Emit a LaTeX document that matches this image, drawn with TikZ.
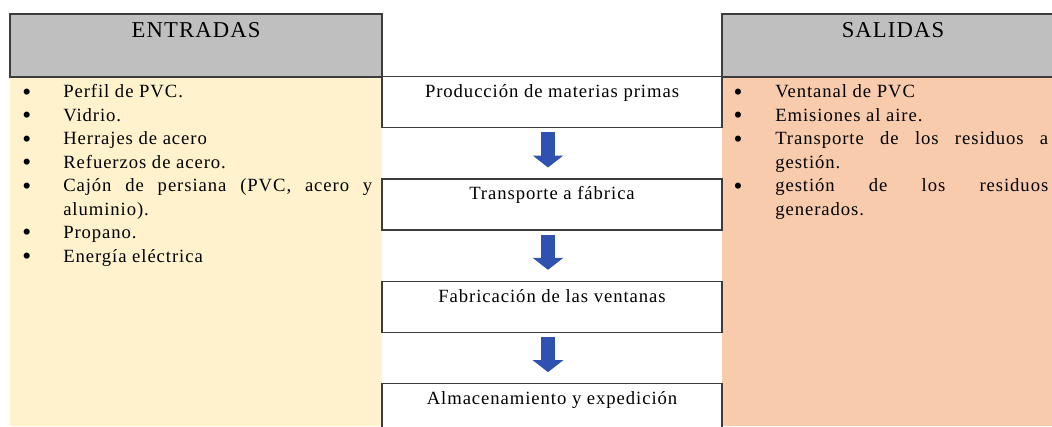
\documentclass[tikz,border=0pt]{standalone}
\usepackage{fontspec}
\setmainfont{Liberation Serif}[LetterSpace=5]
\usetikzlibrary{positioning,arrows.meta}

\definecolor{headgray}{RGB}{191,191,191}
\definecolor{inyellow}{RGB}{255,242,204}
\definecolor{outsalmon}{RGB}{247,203,172}
\definecolor{flowblue}{RGB}{47,82,176}
\definecolor{edgegray}{RGB}{60,60,60}

% bullet line with hanging indent
\newcommand{\bulitem}[2]{\par\hangindent=#1\hangafter=1\noindent
  \makebox[#1][l]{\hspace{#2}\raisebox{-1.8pt}{\fontsize{19}{17.6}\selectfont\textbullet}}\ignorespaces}

\tikzset{
  headbox/.style={draw=edgegray,line width=1.1pt,fill=headgray,inner sep=0pt,
    minimum height=47.25pt,text height=17.25pt,text depth=30pt,
    font=\fontsize{17}{19}\selectfont},
  stagebox/.style={draw=edgegray,line width=1pt,fill=white,inner sep=0pt,
    minimum width=255pt,minimum height=38.25pt,text height=15.75pt,text depth=22.5pt,
    font=\fontsize{14}{17}\selectfont},
  listtext/.style={anchor=north west,inner sep=0pt,align=justify,
    font=\fontsize{14}{17.6}\selectfont},
  flowarrow/.style={flowblue,line width=10pt,
    -{Triangle[width=22.5pt,length=9pt]}}
}

\begin{document}
\begin{tikzpicture}[x=0.75pt,y=-0.75pt]
  \useasboundingbox (0,0) rectangle (1052,426);

  % panels
  \fill[inyellow] (10,77) rectangle (382,426);
  \fill[outsalmon] (722,77) rectangle (1064,426);

  \node[headbox,minimum width=279pt] (inhead) at (196,45.5) {ENTRADAS};
  \node[headbox,minimum width=256.5pt] (outhead) at (893,45.5) {SALIDAS};

  \node[listtext,text width=268.5pt] (inlist) at (14,74) {%
    \bulitem{36.75pt}{6pt}Perfil de PVC.
    \bulitem{36.75pt}{6pt}Vidrio.
    \bulitem{36.75pt}{6pt}Herrajes de acero
    \bulitem{36.75pt}{6pt}Refuerzos de acero.
    \bulitem{36.75pt}{6pt}Cajón de persiana (PVC, acero y\linebreak aluminio).
    \bulitem{36.75pt}{6pt}Propano.
    \bulitem{36.75pt}{6pt}Energía eléctrica\par};

  \node[listtext,text width=240pt] (outlist) at (728,74) {%
    \bulitem{35.25pt}{4pt}Ventanal de PVC
    \bulitem{35.25pt}{4pt}Emisiones al aire.
    \bulitem{35.25pt}{4pt}Transporte de los residuos a\linebreak gestión.
    \bulitem{35.25pt}{4pt}gestión de los residuos\linebreak generados.\par};

  % process chain
  \node[stagebox] (p1) at (552,102) {Producción de materias primas};
  \node[stagebox,below=37.5pt of p1] (p2) {Transporte a fábrica};
  \node[stagebox,below=37.5pt of p2] (p3) {Fabricación de las ventanas};
  \node[stagebox,below=37.5pt of p3] (p4) {Almacenamiento y expedición};

  \foreach \a/\b in {p1/p2,p2/p3,p3/p4}
    \draw[flowarrow] ([xshift=-3pt,yshift=-3pt]\a.south) -- ([xshift=-3pt,yshift=8pt]\b.north);
\end{tikzpicture}
\end{document}
